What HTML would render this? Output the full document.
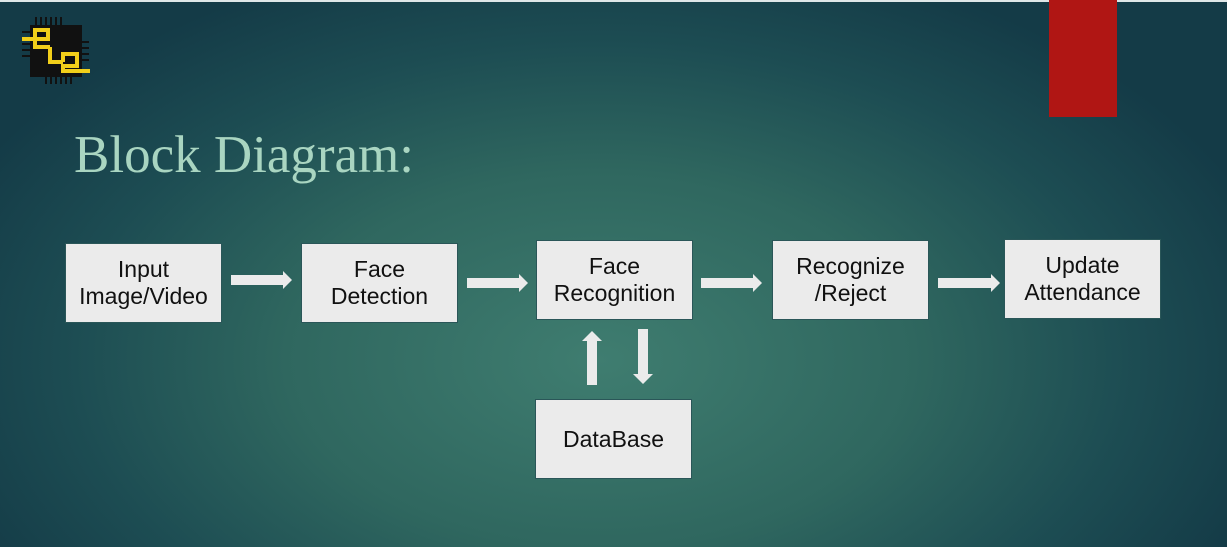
<!DOCTYPE html>
<html><head><style>
html,body{margin:0;padding:0}
body{width:1227px;height:547px;overflow:hidden;position:relative;
background:radial-gradient(ellipse 700px 420px at 600px 360px,#3f7d70 0%,#2f675f 45%,#1d4d53 75%,#143b47 100%);
font-family:"Liberation Sans",sans-serif}
.top{position:absolute;left:0;top:0;width:1227px;height:2px;background:#dfe7e8}
.red{position:absolute;left:1049px;top:0;width:68px;height:117px;background:#b01614}
.title{position:absolute;left:74px;top:123px;font-family:"Liberation Serif",serif;font-size:53px;color:#a9d5c1;line-height:64px;white-space:nowrap}
.b{position:absolute;width:155px;height:78px;background:#ebebeb;border:1px solid #2a5658;display:flex;align-items:center;justify-content:center;text-align:center;font-size:23px;line-height:27px;color:#111}
svg{position:absolute;left:0;top:0}
</style></head><body>
<div class="top"></div>
<div class="red"></div>
<svg width="1227" height="547">
<g fill="#111">
<rect x="30" y="25" width="52" height="52"/>
<g stroke="#111" stroke-width="2">
<line x1="36" y1="17" x2="36" y2="25"/><line x1="41" y1="17" x2="41" y2="25"/><line x1="46" y1="17" x2="46" y2="25"/><line x1="51" y1="17" x2="51" y2="25"/><line x1="56" y1="17" x2="56" y2="25"/><line x1="61" y1="17" x2="61" y2="25"/>
<line x1="46" y1="77" x2="46" y2="84"/><line x1="51" y1="77" x2="51" y2="84"/><line x1="56" y1="77" x2="56" y2="84"/><line x1="61" y1="77" x2="61" y2="84"/><line x1="66" y1="77" x2="66" y2="84"/><line x1="71" y1="77" x2="71" y2="84"/>
<line x1="22" y1="32" x2="30" y2="32"/><line x1="22" y1="44" x2="30" y2="44"/><line x1="22" y1="50" x2="30" y2="50"/><line x1="22" y1="56" x2="30" y2="56"/>
<line x1="82" y1="42" x2="89" y2="42"/><line x1="82" y1="48" x2="89" y2="48"/><line x1="82" y1="54" x2="89" y2="54"/><line x1="82" y1="60" x2="89" y2="60"/>
</g></g>
<g fill="none" stroke="#f2cf1a" stroke-width="4">
<path d="M22 39 H48 V30 H35 V47 H50"/>
<path d="M50 47 V62 H63"/>
<path d="M63 62 V54 H77 V66 H63 V71 H90"/>
</g>
<g fill="#ebebeb">
<polygon points="231,275 283,275 283,271 292,280 283,289 283,285 231,285"/>
<polygon points="467,278 519,278 519,274 528,283 519,292 519,288 467,288"/>
<polygon points="701,278 753,278 753,274 762,283 753,292 753,288 701,288"/>
<polygon points="938,278 991,278 991,274 1000,283 991,292 991,288 938,288"/>
<polygon points="587,385 587,341 582,341 592,331 602,341 597,341 597,385"/>
<polygon points="638,329 638,374 633,374 643,384 653,374 648,374 648,329"/>
</g>
</svg>
<div class="title">Block Diagram:</div>
<div class="b" style="left:65px;top:243px">Input<br>Image/Video</div>
<div class="b" style="left:301px;top:243px">Face<br>Detection</div>
<div class="b" style="left:536px;top:240px">Face<br>Recognition</div>
<div class="b" style="left:772px;top:240px">Recognize<br>/Reject</div>
<div class="b" style="left:1004px;top:239px">Update<br>Attendance</div>
<div class="b" style="left:535px;top:399px">DataBase</div>
</body></html>
